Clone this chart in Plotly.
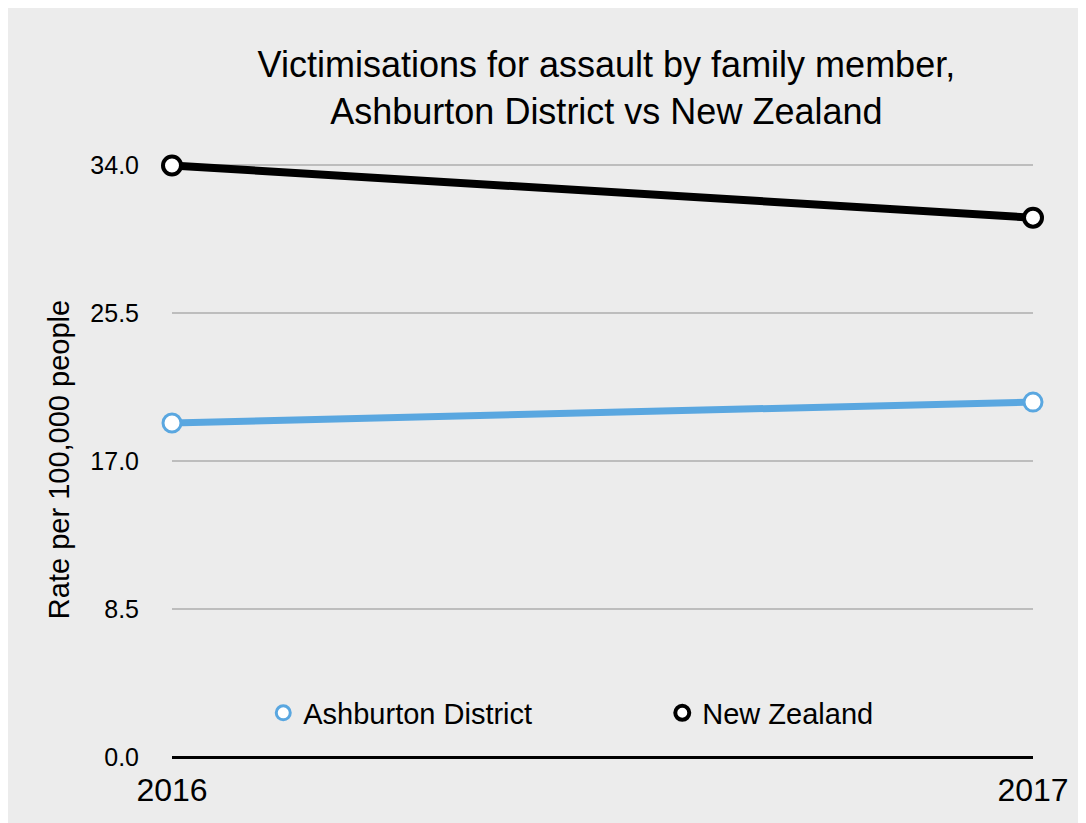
import plotly.graph_objects as go

years = [2016, 2017]
ashburton = [19.2, 20.4]
new_zealand = [34.0, 31.0]
y_ticks = [0.0, 8.5, 17.0, 25.5, 34.0]
y_tick_labels = ["0.0", "8.5", "17.0", "25.5", "34.0"]
title = "Victimisations for assault by family member,<br>Ashburton District vs New Zealand"

FONT = "Liberation Sans, Arial, Helvetica, sans-serif"
BLUE = "#5aa7e0"

fig = go.Figure()
fig.add_trace(go.Scatter(
    x=years, y=ashburton, mode="lines+markers", name="Ashburton District",
    line=dict(color=BLUE, width=7),
    marker=dict(size=18, color="white", line=dict(color=BLUE, width=3)),
    showlegend=False, cliponaxis=False))
fig.add_trace(go.Scatter(
    x=years, y=new_zealand, mode="lines+markers", name="New Zealand",
    line=dict(color="black", width=8),
    marker=dict(size=18, color="white", line=dict(color="black", width=4)),
    showlegend=False, cliponaxis=False))
# legend-only entries (marker only, as in the reference)
fig.add_trace(go.Scatter(
    x=[None], y=[None], mode="markers", name="Ashburton District",
    marker=dict(size=14, color="white", line=dict(color=BLUE, width=3))))
fig.add_trace(go.Scatter(
    x=[None], y=[None], mode="markers", name="New Zealand",
    marker=dict(size=14, color="white", line=dict(color="black", width=4))))

fig.update_layout(
    width=1086, height=823,
    paper_bgcolor="#ececec", plot_bgcolor="#ececec",
    font=dict(family=FONT, size=25, color="black"),
    title=dict(text=title, x=0.551, xanchor="center", y=0.916, yanchor="middle",
               font=dict(size=36, family=FONT)),
    margin=dict(l=164, r=61, t=154, b=74),
    legend=dict(orientation="h", x=0.106, xanchor="left", y=0.074, yanchor="middle",
                bgcolor="rgba(0,0,0,0)", font=dict(size=29), itemwidth=30,
                entrywidth=354, tracegroupgap=0),
    showlegend=True,
)
fig.update_xaxes(
    range=[2016, 2017], tickvals=years, ticktext=[str(y) for y in years],
    showgrid=False, zeroline=False, showline=False, ticks="",
    tickfont=dict(size=32), ticklabelstandoff=11)
fig.update_yaxes(
    range=[0, 34.2], tickvals=y_ticks, ticktext=y_tick_labels,
    showgrid=True, gridcolor="#bdbdbd", gridwidth=2,
    zeroline=True, zerolinecolor="black", zerolinewidth=3,
    showline=False, ticks="", tickfont=dict(size=25), ticklabelstandoff=32,
    title=dict(text="Rate per 100,000 people", font=dict(size=29), standoff=12))

fig.write_html("out.html")
